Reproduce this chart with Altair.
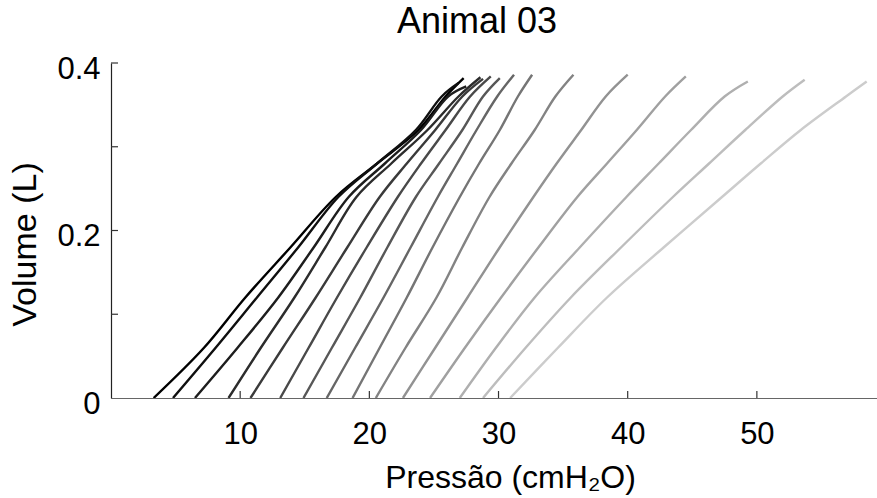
import altair as alt
import pandas as pd

# ---- data ----
curve_ids = [f"c{i:02d}" for i in range(1, 16)]
volume_levels = [0.0, 0.06, 0.12, 0.18, 0.24, 0.28, 0.32, 0.36]
pressures = [
    [3.3, 7.2, 10.4, 13.9, 17.4, 20.6, 23.8, 25.9],
    [4.8, 8.1, 11.3, 14.5, 17.6, 20.6, 23.6, 25.6],
    [6.5, 9.8, 12.95, 15.7, 18.4, 21.2, 24.0, 26.1],
    [9.1, 11.6, 14.2, 16.6, 19.0, 21.7, 24.5, 26.9],
    [10.8, 13.3, 15.85, 18.3, 20.8, 22.9, 25.1, 27.2],
    [13.1, 15.3, 17.5, 19.8, 22.2, 24.0, 25.9, 27.8],
    [14.9, 17.1, 19.3, 21.4, 23.6, 25.4, 27.2, 28.8],
    [16.7, 18.9, 21.1, 23.2, 25.3, 26.8, 28.3, 29.9],
    [18.7, 20.8, 22.9, 24.9, 27.0, 28.5, 30.1, 31.5],
    [20.5, 22.8, 25.2, 27.2, 29.3, 31.0, 32.8, 34.4],
    [22.6, 25.1, 27.6, 30.1, 32.7, 34.5, 36.4, 38.3],
    [24.7, 27.4, 30.2, 33.1, 36.1, 38.4, 40.7, 42.9],
    [27.0, 29.8, 32.8, 36.3, 39.9, 42.4, 44.9, 47.5],
    [28.8, 32.1, 35.6, 39.5, 43.5, 46.3, 49.1, 52.0],
    [30.9, 34.6, 38.4, 42.8, 47.3, 50.3, 53.4, 56.9],
]
end_pressure = [27.3, 26.9, 27.5, 28.6, 28.8, 29.4, 30.1, 31.2, 32.6, 35.8, 40.0, 44.5, 49.3, 53.7, 58.5]
end_volume = [0.382, 0.376, 0.372, 0.383, 0.381, 0.384, 0.382, 0.386, 0.386, 0.386, 0.386, 0.384, 0.378, 0.38, 0.378]
gray_shades = ["#000000", "#0f0f0f", "#1d1d1d", "#2c2c2c", "#3a3a3a", "#494949", "#575757",
               "#666666", "#757575", "#838383", "#929292", "#a0a0a0", "#afafaf", "#bdbdbd", "#cccccc"]

x_ticks = [10, 20, 30, 40, 50]
y_ticks = [0.1, 0.2, 0.3, 0.4]
y_labels = [0, 0.2, 0.4]

rows = []
for cid, plist, pe, ve in zip(curve_ids, pressures, end_pressure, end_volume):
    for k, (p, v) in enumerate(zip(plist, volume_levels)):
        rows.append({"curve": cid, "P": p, "V": v, "k": k})
    rows.append({"curve": cid, "P": pe, "V": ve, "k": len(plist)})
df = pd.DataFrame(rows)

W, H = 766, 335
FONT = "Liberation Sans"

xscale = alt.Scale(domain=[0, 59.3], nice=False, zero=False)
yscale = alt.Scale(domain=[0, 0.4], nice=False)

lines = alt.Chart(df).mark_line(strokeWidth=2.4, clip=True, interpolate="catmull-rom").encode(
    x=alt.X("P:Q", scale=xscale,
            axis=alt.Axis(values=x_ticks, ticks=False, grid=False, domainColor="#666666",
                          domainWidth=1.2, labelFontSize=31, labelFont=FONT, labelColor="#000000",
                          labelPadding=21, title="Pressão (cmH₂O)", titleFont=FONT,
                          titleFontSize=32, titleFontWeight="normal", titleColor="#000000",
                          titleX=399, titleY=89, titleBaseline="alphabetic", titleAlign="center")),
    y=alt.Y("V:Q", scale=yscale,
            axis=alt.Axis(values=y_labels, ticks=False, grid=False, domainColor="#222222",
                          domainWidth=1.2, labelFontSize=31, labelFont=FONT, labelColor="#000000",
                          labelPadding=11, labelOffset=6,
                          labelExpr="datum.value == 0 ? '0' : format(datum.value, '.1f')",
                          title="Volume (L)", titleFont=FONT, titleFontSize=34,
                          titleFontWeight="normal", titleColor="#000000",
                          titleX=-86, titleY=181, titleBaseline="middle", titleAngle=-90)),
    color=alt.Color("curve:N", scale=alt.Scale(domain=curve_ids, range=gray_shades), legend=None),
    detail="curve:N",
    order="k:Q",
)

xt = alt.Chart(pd.DataFrame({"t": x_ticks})).mark_rule(color="#333333", strokeWidth=1.2).encode(
    x=alt.X("t:Q", scale=xscale), y=alt.value(H), y2=alt.value(H - 7))
yt = alt.Chart(pd.DataFrame({"t": y_ticks})).mark_rule(color="#333333", strokeWidth=1.2).encode(
    y=alt.Y("t:Q", scale=yscale), x=alt.value(0), x2=alt.value(7))

chart = alt.layer(lines, xt, yt).properties(
    width=W, height=H,
    background="#ffffff",
    title=alt.TitleParams("Animal 03", font=FONT, fontSize=36, fontWeight="normal",
                          color="#000000", anchor="middle", dx=-17, offset=12),
    autosize=alt.AutoSizeParams(type="none"),
    padding={"left": 111, "top": 63, "right": 0, "bottom": 100},
).configure_view(stroke=None)

chart.save("out.html", embed_options={"renderer": "svg", "actions": False})
